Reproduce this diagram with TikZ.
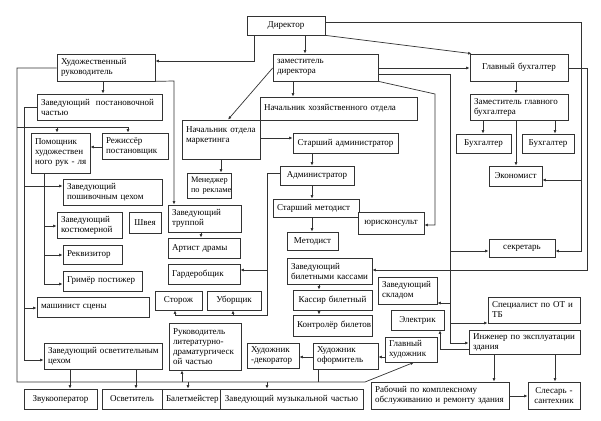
\documentclass[tikz,border=0pt]{standalone}
\usepackage{fontspec}
\setmainfont{Liberation Serif}
\newfontfamily\boxfont{Liberation Serif}
\usetikzlibrary{arrows.meta}
\tikzset{
 box/.style={draw=black!80, line width=0.7pt, inner xsep=4pt, inner ysep=1pt, font=\boxfont\fontsize{9}{10}\selectfont, fill=white},
 arr/.style={draw=black!80, line width=0.7pt, -{Latex[length=3.5pt,width=3pt]}},
 ln/.style={draw=black!80, line width=0.7pt},
}
\newcommand\obox[7][left]{%
 \pgfmathsetmacro\bw{#5-#3}\pgfmathsetmacro\bh{#6-#4}\pgfmathsetmacro\tw{#5-#3-8}%
 \node[box,minimum width=\bw pt,minimum height=\bh pt,text width=\tw pt,align=#1] (#2) at ({(#3+#5)/2},{(#4+#6)/2}) {#7};}
\begin{document}
\begin{tikzpicture}[x=1pt,y=-1pt]
\useasboundingbox[fill=white] (0,0) rectangle (601,420);
% boxes
\obox[center]{dir}{247}{16}{325}{35}{Директор}
\obox{hud}{57}{54}{155}{81}{Художественный\\руководитель}
\obox{zam}{273}{54}{378}{81}{заместитель\\директора}
\obox[center]{gb}{470}{54}{568}{81}{Главный~бухгалтер}
\obox{zpch}{37}{94}{162}{120}{Заведующий~~постановочной\\частью}
\obox{nhoz}{260}{97}{417}{120}{Начальник~хозяйственного~отдела}
\obox{zgb}{470}{94}{568}{120}{Заместитель~главного\\бухгалтера}
\obox{nmark}{182}{120}{260}{159}{Начальник~отдела\\маркетинга\\\mbox{}}
\obox{pom}{31}{133}{90}{173}{Помощник\\художествен\\\mbox{ного рук - ля}}
\obox{rez}{102}{133}{168}{159}{Режиссёр\\постановщик}
\obox[center]{buh1}{456}{134}{511}{153}{Бухгалтер}
\obox[center]{buh2}{522}{134}{574}{153}{Бухгалтер}
\obox[center]{stadm}{293}{133}{398}{153}{Старший~администратор}
\obox[center]{men}{187}{173}{231}{198}{\fontsize{8.3}{9.5}\selectfont Менеджер\\по~рекламе}
\obox[center]{adm}{280}{166}{354}{185}{Администратор}
\obox[center]{ekon}{489}{166}{542}{186}{Экономист}
\obox{zposh}{63}{179}{162}{205}{Заведующий\\пошивочным~цехом}
\obox{stmet}{273}{199}{359}{217}{Старший~методист}
\obox{zkost}{57}{212}{122}{238}{Заведующий\\костюмерной}
\obox[center]{shveya}{129}{212}{161}{233}{Швея}
\obox{ztr}{168}{205}{241}{232}{Заведующий\\труппой}
\obox[center]{yur}{358}{212}{424}{234}{юрисконсульт}
\obox[center]{metod}{287}{232}{338}{250}{Методист}
\obox{art}{168}{238}{240}{258}{Артист~драмы}
\obox[center]{sekr}{489}{239}{555}{257}{секретарь}
\obox{rekv}{63}{245}{122}{264}{Реквизитор}
\obox{zbk}{287}{258}{372}{284}{Заведующий\\билетными~кассами}
\obox{garder}{168}{264}{240}{284}{Гардеробщик}
\obox{grim}{63}{271}{142}{291}{Гримёр~постижер}
\obox{zsklad}{378}{277}{437}{304}{Заведующий\\складом}
\obox[center]{storozh}{155}{291}{202}{310}{Сторож}
\obox[center]{uborsh}{207}{291}{261}{310}{Уборщик}
\obox[center]{kassir}{293}{290}{372}{310}{Кассир~билетный}
\obox{spec}{488}{297}{580}{323}{Специалист~по~ОТ~и\\ТБ}
\obox{mash}{37}{297}{149}{317}{машинист~сцены}
\obox[center]{elek}{391}{310}{444}{330}{Электрик}
\obox[center]{kontr}{293}{315}{372}{336}{Контролёр~билетов}
\obox{rukl}{169}{323}{241}{370}{Руководитель\\литературно-\\драматургическ\\ой~частью}
\obox{inzh}{469}{330}{580}{354}{Инженер~по~эксплуатации\\здания}
\obox{glhud}{385}{337}{437}{362}{Главный\\художник}
\obox{hof}{313}{343}{378}{369}{Художник\\оформитель}
\obox{hdek}{247}{343}{299}{368}{Художник\\\mbox{-декоратор}}
\obox{zosv}{44}{343}{162}{369}{Заведующий~осветительным\\цехом}
\obox[center]{zvuk}{24}{389}{97}{409}{Звукооператор}
\obox[center]{osv}{102}{389}{162}{409}{Осветитель}
\obox[center]{balet}{162}{389}{220}{409}{Балетмейстер}
\obox[center]{zmuz}{220}{389}{363}{409}{Заведующий~музыкальной~частью}
\obox{rab}{371}{382}{509}{409}{Рабочий~по~комплексному\\обслуживанию~и~ремонту~здания}
\obox[center]{sles}{528}{382}{580}{409}{\mbox{Слесарь -}\\сантехник}
% connectors from director
\draw[arr] (dir.south -| 254,0) -- (254,61) -- (hud.east |- 0,61);
\draw[arr] (dir.south -| 305,0) -- (zam.north -| 305,0);
\draw[arr] (dir.south east) -- ([xshift=2pt]gb.north west);
\draw[arr] (dir.east |- 0,22) -- (581,22) -- (581,251) -- (sekr.east |- 0,251);
\draw[arr] (581,180) -- (ekon.east |- 0,180);
% chief accountant
\draw[arr] (zam.east |- 0,68) -- (gb.west |- 0,68);
\draw[arr] (gb.east |- 0,68) -- (587,68) -- (587,270) -- (zbk.east |- 0,270);
\draw[arr] (gb.south -| 516,0) -- (zgb.north -| 516,0);
\draw[arr] (zgb.south -| 483,0) -- (buh1.north -| 483,0);
\draw[arr] (zgb.south -| 555,0) -- (buh2.north -| 555,0);
\draw[arr] (zgb.south -| 516,0) -- (ekon.north -| 516,0);
% deputy director
\draw[arr] (zam.east |- 0,74) -- (450,74) -- (450,343) -- (inzh.west |- 0,343);
\draw[arr] (450,251) -- (sekr.west |- 0,251);
\draw[arr] (450,303) -- (zsklad.east |- 0,303);
\draw[arr] (450,323) -- (spec.west |- 0,323);
\draw[arr] (zam.south east) -- (435,94) -- (435,225) -- (yur.east |- 0,225);
\draw[arr] (zam.south -| 293,0) -- (nhoz.north -| 293,0);
\draw[arr] (zam.west |- 0,68) -- (nmark.north -| 228,0);
\draw[arr] (nmark.south -| 221,0) -- (men.north -| 221,0);
\draw[arr] (nmark.east |- 0,138) -- (stadm.west |- 0,138);
\draw[arr] (stadm.south -| 312,0) -- (adm.north -| 312,0);
\draw[arr] (adm.south -| 312,0) -- (stmet.north -| 312,0);
\draw[arr] (stmet.south -| 312,0) -- (metod.north -| 312,0);
\draw[arr] (adm.west |- 0,173) -- (267,173) -- (267,315) -- (175,315) -- (storozh.south -| 175,0);
\draw[arr] (267,270) -- (garder.east |- 0,270);
\draw[arr] (233,315) -- (uborsh.south -| 233,0);
\draw[arr] (zbk.south -| 319,0) -- (kassir.north -| 319,0);
\draw[arr] (kassir.south -| 319,0) -- (kontr.north -| 319,0);
% engineer
\draw[arr] (inzh.west |- 0,349) -- (440,349) -- (elek.south -| 440,0);
\draw[arr] (inzh.south -| 494,0) -- (rab.north -| 494,0);
\draw[arr] (inzh.south -| 555,0) -- (sles.north -| 555,0);
\draw[arr] (rab.east |- 0,396) -- (sles.west |- 0,396);
\draw[arr] (glhud.west |- 0,357) -- (hof.east |- 0,357);
\draw[arr] (hof.west |- 0,357) -- (hdek.east |- 0,357);
% artistic director
\draw[arr] (hud.south east) -- (174,81) -- (ztr.north -| 174,0);
\draw[arr] (hud.south -| 103,0) -- (zpch.north -| 103,0);
\draw[arr] (ztr.south -| 201,0) -- (art.north -| 201,0);
\draw[arr] (rez.west |- 0,147) -- (pom.east |- 0,147);
\draw[arr] (hud.west |- 0,68) -- (17,68) -- (17,382) -- (365,382) -- (glhud.south -| 414,0);
\draw[ln] (17,127) -- (128,127);
\draw[arr] (57,127) -- (pom.north -| 57,0);
\draw[arr] (128,127) -- (rez.north -| 128,0);
\draw[arr] (182,382) -- (rukl.south -| 182,0);
\draw[arr] (188,382) -- (balet.north -| 188,0);
\draw[arr] (267,382) -- (zmuz.north -| 267,0);
\draw[ln] (318,382) -- (hof.south -| 318,0);
\draw[arr] (zpch.west |- 0,107) -- (24,107) -- (24,360) -- (zosv.west |- 0,360);
\draw[arr] (24,186) -- (zposh.west |- 0,186);
\draw[arr] (24,308) -- (mash.west |- 0,308);
\draw[arr] (pom.south -| 44,0) -- (44,284) -- (grim.west |- 0,284);
\draw[arr] (44,226) -- (zkost.west |- 0,226);
\draw[arr] (44,255) -- (rekv.west |- 0,255);
\draw[arr] (zosv.south -| 70,0) -- (zvuk.north -| 70,0);
\draw[arr] (zosv.south -| 136,0) -- (osv.north -| 136,0);
\end{tikzpicture}
\end{document}
